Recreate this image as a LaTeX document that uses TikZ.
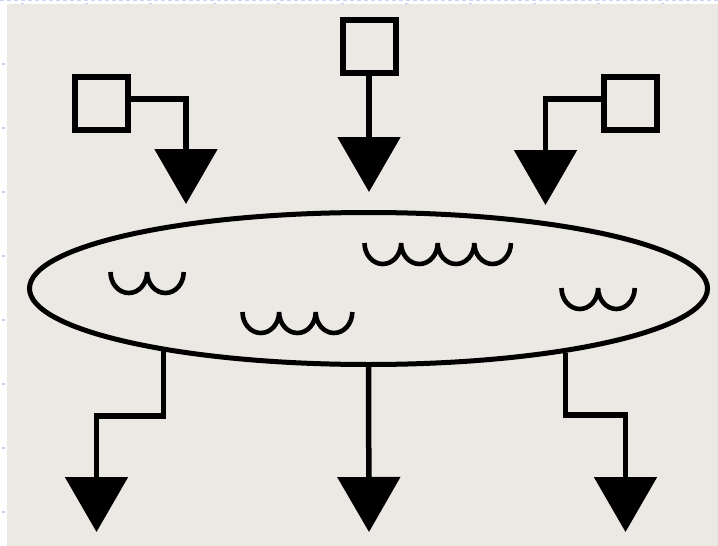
\documentclass[tikz,border=0pt]{standalone}
\usetikzlibrary{arrows.meta,shapes.geometric}
\definecolor{paper}{RGB}{236,232,228}
\definecolor{guide}{RGB}{200,212,245}
\tikzset{
  box/.style={draw=black,line width=6pt,rectangle,minimum size=53pt,inner sep=0pt},
  pool/.style={draw=black,line width=5pt,ellipse,minimum width=678pt,minimum height=152pt,inner sep=0pt},
  conn/.style={line width=5.5pt,-{Triangle[width=62pt,length=55pt]}},
  wave/.style={line width=4.6pt,line cap=butt}
}
% a row of #3 open half-loops starting at (#1,#2)
\newcommand{\ripple}[3]{%
  \draw[wave] (#1,#2) \foreach \k in {1,...,#3} {arc[start angle=180,end angle=360,x radius=18.3,y radius=21]};}
\begin{document}
\begin{tikzpicture}[x=1pt,y=1pt]
  \useasboundingbox (0,0) rectangle (718,-546);
  % sheet and page guides
  \fill[white] (0,0) rectangle (718,-546);
  \fill[paper] (7,-4) rectangle (718,-546);
  \draw[guide,line width=1.2pt,dash pattern=on 4pt off 3pt] (0,-0.8) -- (718,-0.8);
  \foreach \t in {0,...,10} {\fill[guide] (20.5+64*\t,-2.5) rectangle (23.5+64*\t,-4);}
  \foreach \t in {1,...,8} {\fill[guide] (2,-62.5-64*\t+64) rectangle (5,-64.5-64*\t+64);}

  % sources
  \node[box] (b1) at (101.5,-103.5) {};
  \node[box] (b2) at (369,-46.5) {};
  \node[box] (b3) at (630,-103.5) {};

  % the pool
  \node[pool] (pool) at (368.5,-288.5) {};

  % arrow tips
  \coordinate (t1) at (186,-204);
  \coordinate (t2) at (369,-192);
  \coordinate (t3) at (545.5,-205);
  \coordinate (o1) at (96.5,-532);
  \coordinate (o2) at (369,-532);
  \coordinate (o3) at (625.5,-532);

  % inflows
  \draw[conn] ([yshift=4.5pt]b1.east) -| (t1);
  \draw[conn] (b2.south) -- (t2);
  \draw[conn] ([yshift=4.5pt]b3.west) -| (t3);

  % outflows
  \draw[conn] (pool.-163.3) |- (129,-416) -| (o1);
  \draw[conn] (pool.south) -- (o2);
  \draw[conn] (pool.-18.6) |- (593,-415) -| (o3);

  % ripples on the surface
  \ripple{110.5}{-272}{2}
  \ripple{242.5}{-312}{3}
  \ripple{364.5}{-243}{4}
  \ripple{561.5}{-288}{2}
\end{tikzpicture}
\end{document}
